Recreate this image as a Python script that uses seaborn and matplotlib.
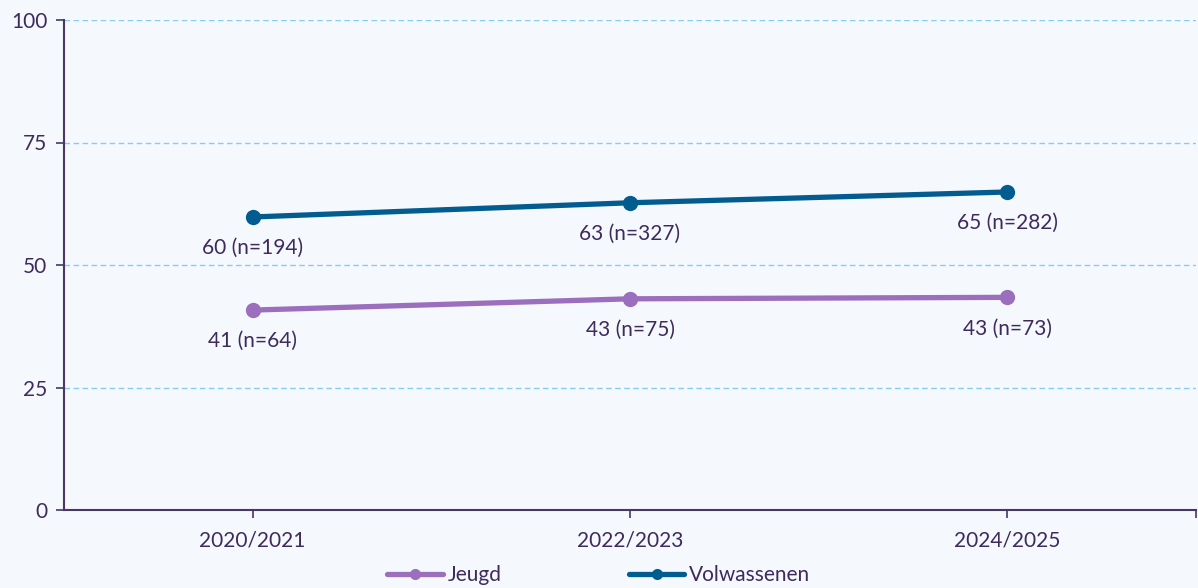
import matplotlib
matplotlib.use("Agg")
import matplotlib.pyplot as plt
import seaborn as sns
import pandas as pd
from matplotlib.lines import Line2D

# data
periods = ["2020/2021", "2022/2023", "2024/2025"]
jeugd = [40.8, 43.1, 43.4]
jeugd_n = [64, 75, 73]
volwassenen = [59.8, 62.7, 64.9]
volwassenen_n = [194, 327, 282]
series_names = ["Jeugd", "Volwassenen"]
y_ticks = [0, 25, 50, 75, 100]

BG = "#F5F8FD"
TXT = "#3E2B5C"
AXC = "#4A3563"
COLORS = {"Jeugd": "#9B6FBE", "Volwassenen": "#035C90"}
FS = 15

sns.set_theme(style="white")
plt.rcParams["font.family"] = ["Lato", "DejaVu Sans"]

df = pd.DataFrame({
    "periode": periods * 2,
    "x": list(range(len(periods))) * 2,
    "waarde": jeugd + volwassenen,
    "n": jeugd_n + volwassenen_n,
    "groep": [series_names[0]] * 3 + [series_names[1]] * 3,
})

fig = plt.figure(figsize=(11.98, 5.88), dpi=100)
fig.patch.set_facecolor(BG)
ax = fig.add_axes([64 / 1198, 78 / 588, 1132 / 1198, 490 / 588])
ax.set_facecolor(BG)

for y in y_ticks[1:]:
    ax.axhline(y, color="#86CDF3", linestyle=(0, (4, 2.5)), linewidth=1.0, zorder=0)

sns.lineplot(data=df, x="x", y="waarde", hue="groep", palette=COLORS,
             linewidth=3.8, marker="o", markersize=11, markeredgewidth=0,
             legend=False, ax=ax, zorder=3)

# labels onder de punten
for _, r in df.iterrows():
    ax.annotate(f"{round(r['waarde'])} (n={r['n']})", (r["x"], r["waarde"]),
                xytext=(0, -22.5), textcoords="offset points", ha="center",
                va="center", fontsize=FS, color=TXT)

ax.set_xlim(-0.5, 2.5)
ax.set_ylim(0, 100)
ax.set_xticks(range(len(periods)))
ax.set_xticklabels(periods)
ax.set_xticks([2.5], minor=True)
ax.set_yticks(y_ticks)
ax.set_xlabel("")
ax.set_ylabel("")
ax.tick_params(axis="both", which="both", colors=AXC, labelcolor=TXT,
               labelsize=FS, length=6, width=1.2, direction="out", bottom=True, left=True)
ax.tick_params(axis="x", pad=9)
ax.tick_params(axis="y", pad=6)
for s in ["top", "right"]:
    ax.spines[s].set_visible(False)
for s in ["left", "bottom"]:
    ax.spines[s].set_color(AXC)
    ax.spines[s].set_linewidth(1.5)

handles = [Line2D([0], [0], color=COLORS[n], linewidth=3.8, marker="o",
                  markersize=8, markeredgewidth=0) for n in series_names]
fig.legend(handles, series_names, loc="center", bbox_to_anchor=(0.5, 0.022),
           ncol=2, frameon=False, fontsize=FS, labelcolor=TXT,
           handlelength=2.65, handletextpad=0.25, columnspacing=6.1)

plt.savefig("out.png", dpi=100, facecolor=BG)
